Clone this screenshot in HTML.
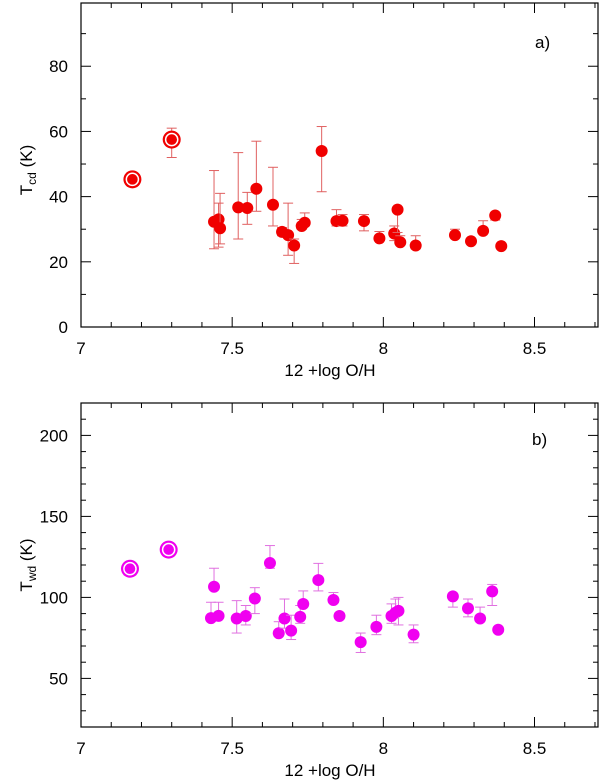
<!DOCTYPE html>
<html><head><meta charset="utf-8"><style>
body{margin:0;background:#fff}
svg{display:block;font-family:"Liberation Sans",sans-serif}
</style></head><body>
<svg id="c" width="600" height="781"></svg>
<script>
const aX=[7.44,7.455,7.46,7.52,7.55,7.58,7.635,7.665,7.685,7.705,7.73,7.74,7.796,7.845,7.865,7.936,7.987,8.036,8.047,8.056,8.107,8.237,8.29,8.33,8.37,8.39];
const aY=[32.3,33,30.3,36.7,36.5,42.4,37.5,29.2,28.2,25,31,32,54,32.5,32.6,32.5,27.2,28.7,36,26,25,28.2,26.3,29.5,34.2,24.8];
const aHi=[48,38,41,53.5,41.3,57,49,30.5,38,27,33,35,61.5,36,34.5,34.5,29.3,31,36,28,28,30,26.3,32.6,34.2,24.8];
const aLo=[24,24.5,25.5,27,31.5,35.5,31,28,22,19.5,30,31,41.5,31,31,29.5,27.2,26.5,29,26,24,28.2,26.3,29.5,32.8,24.8];
const aRingX=[7.17,7.3];
const aRingY=[45.3,57.5];
const aRingHi=[45.3,61];
const aRingLo=[45.3,52];
const bX=[7.43,7.44,7.455,7.515,7.545,7.575,7.625,7.654,7.673,7.695,7.725,7.735,7.785,7.835,7.855,7.925,7.977,8.027,8.04,8.05,8.1,8.23,8.28,8.32,8.36,8.38];
const bY=[87.2,106.6,88.6,87,88.5,99.3,121.2,77.9,87,79.5,88,95.9,110.7,98.4,88.5,72.4,81.8,88.5,90.5,91.7,77,100.6,93.2,87,103.7,80];
const bHi=[97,118,97,98,95,106,132,85,99,89,95,104,121,103,88.5,78,89,96,99,100,83,100.6,99,94,108,80];
const bLo=[87.2,106.6,88.6,78,83,90,118,77.9,81,74,84,95.9,104,98.4,88.5,66,77,84,90.5,83,72,94,88,87,95,80];
const bRingX=[7.162,7.29];
const bRingY=[117.7,129.5];
const xTicks=["7","7.5","8","8.5"];
const xTickVals=[7,7.5,8,8.5];
const aYTicks=["0","20","40","60","80"];
const aYTickVals=[0,20,40,60,80];
const bYTicks=["50","100","150","200"];
const bYTickVals=[50,100,150,200];

const NS="http://www.w3.org/2000/svg";
const svg=document.getElementById('c');
function el(t,a,p){const e=document.createElementNS(NS,t);for(const k in a)e.setAttribute(k,a[k]);(p||svg).appendChild(e);return e;}
const L=81,R=598,XMIN=7,XMAX=8.71;
const sx=v=>L+(v-XMIN)/(XMAX-XMIN)*(R-L);

function panel(name,top,bot,ymin,ymax,yStep,ticks,tickVals,X,Y,Hi,Lo,RX,RY,RHi,RLo,col,ecol,label,lx,ly,ylab,sub,ycen){
  const g=el('g',{});
  
  
  const sy=v=>bot-(v-ymin)/(ymax-ymin)*(bot-top);
  const f=el('rect',{x:L,y:top,width:R-L,height:bot-top,fill:'none',stroke:'#000','stroke-width':1.2},g);
  
  
  for(let v=7;v<=8.7001;v+=0.1){const x=sx(v);const maj=Math.abs(v*2-Math.round(v*2))<1e-6;const len=maj?10:5;
    el('line',{x1:x,x2:x,y1:bot,y2:bot-len,stroke:'#000'},g);el('line',{x1:x,x2:x,y1:top,y2:top+len,stroke:'#000'},g);}
  for(let v=Math.ceil(ymin/yStep)*yStep;v<=ymax;v+=yStep){const y=sy(v);const maj=tickVals.some(t=>Math.abs(t-v)<1e-6);const len=maj?10:5;
    el('line',{x1:L,x2:L+len,y1:y,y2:y,stroke:'#000'},g);el('line',{x1:R,x2:R-len,y1:y,y2:y,stroke:'#000'},g);}
  xTicks.forEach((t,i)=>{const e=el('text',{x:sx(xTickVals[i]),y:bot+27,'text-anchor':'middle','font-size':17},g);e.textContent=t;
    });
  ticks.forEach((t,i)=>{const e=el('text',{x:68,y:sy(tickVals[i])+6,'text-anchor':'end','font-size':17},g);e.textContent=t;
    });
  const xt=el('text',{x:330,y:bot+49,'text-anchor':'middle','font-size':17},g);xt.textContent='12 +log O/H';
  
  const yt=el('text',{x:0,y:0,'text-anchor':'middle','font-size':17,transform:`translate(32,${ycen}) rotate(-90)`},g);
  yt.innerHTML=`T<tspan font-size="12" dy="4">${sub}</tspan><tspan dy="-4">  (K)</tspan>`;
  
  const lb=el('text',{x:lx,y:ly,'font-size':17},g);lb.textContent=label;
  
  X.forEach((xv,i)=>{const x=sx(xv);
    if(Hi[i]!==Y[i]){el('line',{x1:x,x2:x,y1:sy(Y[i]),y2:sy(Hi[i]),stroke:ecol},g);el('line',{x1:x-5,x2:x+5,y1:sy(Hi[i]),y2:sy(Hi[i]),stroke:ecol},g);}
    if(Lo[i]!==Y[i]){el('line',{x1:x,x2:x,y1:sy(Y[i]),y2:sy(Lo[i]),stroke:ecol},g);el('line',{x1:x-5,x2:x+5,y1:sy(Lo[i]),y2:sy(Lo[i]),stroke:ecol},g);}
    const c=el('circle',{cx:x,cy:sy(Y[i]),r:6,fill:col},g);
    });
  RX.forEach((xv,i)=>{const x=sx(xv),y=sy(RY[i]);
    if(RHi&&RHi[i]!==RY[i]){el('line',{x1:x,x2:x,y1:sy(RLo[i]),y2:sy(RHi[i]),stroke:ecol},g);
      el('line',{x1:x-5,x2:x+5,y1:sy(RHi[i]),y2:sy(RHi[i]),stroke:ecol},g);el('line',{x1:x-5,x2:x+5,y1:sy(RLo[i]),y2:sy(RLo[i]),stroke:ecol},g);}
    el('circle',{cx:x,cy:y,r:9,fill:col},g);el('circle',{cx:x,cy:y,r:6.8,fill:'#fff'},g);
    const c=el('circle',{cx:x,cy:y,r:5.3,fill:col},g);
    });
}
panel('panel-a',3,327,0,99.4,10,aYTicks,aYTickVals,aX,aY,aHi,aLo,aRingX,aRingY,aRingHi,aRingLo,'#f00000','#e06060','a)',535,48,'','cd',170);
panel('panel-b',403,727,20,220,10,bYTicks,bYTickVals,bX,bY,bHi,bLo,bRingX,bRingY,null,null,'#f000f0','#e070e0','b)',532,445,'','wd',565);
</script>
</body></html>
